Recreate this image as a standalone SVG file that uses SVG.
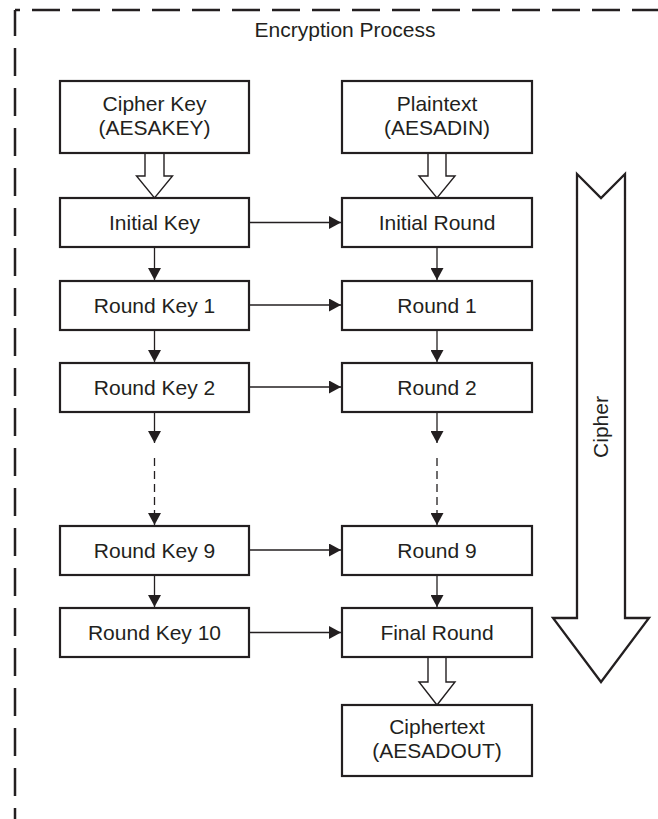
<svg xmlns="http://www.w3.org/2000/svg" width="658" height="819" viewBox="0 0 658 819">
<style>
  .box { fill: #ffffff; stroke: #231f20; stroke-width: 2.2; }
  .lbl { font-family: "Liberation Sans", Arial, sans-serif; font-size: 21px; fill: #231f20; text-anchor: middle; }
  .conn { stroke: #231f20; stroke-width: 1.3; fill: none; }
  .dash { stroke-dasharray: 8 5; }
  .hollow { fill: #ffffff; stroke: #231f20; stroke-width: 1.4; stroke-linejoin: miter; }
  .border { fill: none; stroke: #231f20; stroke-width: 2.5; stroke-dasharray: 28 12; }
</style>
<defs>
  <marker id="ah" markerUnits="userSpaceOnUse" markerWidth="13" markerHeight="13" refX="12" refY="6.5" orient="auto">
    <path d="M0,0 L12,6.5 L0,13 Z" fill="#231f20"/>
  </marker>
</defs>
<rect width="658" height="819" fill="#ffffff"/>

<g id="frame">
  <path class="border" d="M15,10 H660" stroke-dashoffset="23"/>
  <path class="border" d="M15,10 V830" stroke-dashoffset="2"/>
  <text class="lbl" x="345" y="37">Encryption Process</text>
</g>

<g id="cipher-arrow">
  <polygon points="577,174 601,198 625,174 625,618 649,618 601,682 553,618 577,618" fill="#ffffff" stroke="#231f20" stroke-width="2.3" stroke-linejoin="miter"/>
  <text class="lbl" transform="translate(608,427) rotate(-90)">Cipher</text>
</g>

<g id="connectors">
  <polygon class="hollow" points="145,153 145,176 136.5,176 154.5,198 172.5,176 164,176 164,153"/>
  <polygon class="hollow" points="428,153 428,176 419,176 437,198 455,176 446,176 446,153"/>
  <polygon class="hollow" points="428,657 428,682 419,682 437,705 455,682 446,682 446,657"/>

  <line class="conn" x1="154.5" y1="248" x2="154.5" y2="280" marker-end="url(#ah)"/>
  <line class="conn" x1="154.5" y1="331" x2="154.5" y2="362" marker-end="url(#ah)"/>
  <line class="conn" x1="154.5" y1="413" x2="154.5" y2="443" marker-end="url(#ah)"/>
  <line class="conn dash" x1="154.5" y1="458" x2="154.5" y2="525" marker-end="url(#ah)"/>
  <line class="conn" x1="154.5" y1="576" x2="154.5" y2="607" marker-end="url(#ah)"/>

  <line class="conn" x1="437" y1="248" x2="437" y2="280" marker-end="url(#ah)"/>
  <line class="conn" x1="437" y1="331" x2="437" y2="362" marker-end="url(#ah)"/>
  <line class="conn" x1="437" y1="413" x2="437" y2="443" marker-end="url(#ah)"/>
  <line class="conn dash" x1="437" y1="458" x2="437" y2="525" marker-end="url(#ah)"/>
  <line class="conn" x1="437" y1="576" x2="437" y2="607" marker-end="url(#ah)"/>

  <line class="conn" x1="250" y1="222.5" x2="341" y2="222.5" marker-end="url(#ah)"/>
  <line class="conn" x1="250" y1="305" x2="341" y2="305" marker-end="url(#ah)"/>
  <line class="conn" x1="250" y1="387" x2="341" y2="387" marker-end="url(#ah)"/>
  <line class="conn" x1="250" y1="550" x2="341" y2="550" marker-end="url(#ah)"/>
  <line class="conn" x1="250" y1="632.5" x2="341" y2="632.5" marker-end="url(#ah)"/>
</g>

<g id="cipher-key">
  <rect class="box" x="60" y="81" width="189" height="72"/>
  <text class="lbl" x="154.5" y="111">Cipher Key</text>
  <text class="lbl" x="154.5" y="135">(AESAKEY)</text>
</g>
<g id="plaintext">
  <rect class="box" x="342" y="81" width="190" height="72"/>
  <text class="lbl" x="437" y="111">Plaintext</text>
  <text class="lbl" x="437" y="135">(AESADIN)</text>
</g>

<g id="initial-key">
  <rect class="box" x="60" y="198" width="189" height="49"/>
  <text class="lbl" x="154.5" y="230">Initial Key</text>
</g>
<g id="initial-round">
  <rect class="box" x="342" y="198" width="190" height="49"/>
  <text class="lbl" x="437" y="230">Initial Round</text>
</g>

<g id="round-key-1">
  <rect class="box" x="60" y="281" width="189" height="49"/>
  <text class="lbl" x="154.5" y="313">Round Key 1</text>
</g>
<g id="round-1">
  <rect class="box" x="342" y="281" width="190" height="49"/>
  <text class="lbl" x="437" y="313">Round 1</text>
</g>

<g id="round-key-2">
  <rect class="box" x="60" y="363" width="189" height="49"/>
  <text class="lbl" x="154.5" y="395">Round Key 2</text>
</g>
<g id="round-2">
  <rect class="box" x="342" y="363" width="190" height="49"/>
  <text class="lbl" x="437" y="395">Round 2</text>
</g>

<g id="round-key-9">
  <rect class="box" x="60" y="526" width="189" height="49"/>
  <text class="lbl" x="154.5" y="558">Round Key 9</text>
</g>
<g id="round-9">
  <rect class="box" x="342" y="526" width="190" height="49"/>
  <text class="lbl" x="437" y="558">Round 9</text>
</g>

<g id="round-key-10">
  <rect class="box" x="60" y="608" width="189" height="49"/>
  <text class="lbl" x="154.5" y="640">Round Key 10</text>
</g>
<g id="final-round">
  <rect class="box" x="342" y="608" width="190" height="49"/>
  <text class="lbl" x="437" y="640">Final Round</text>
</g>

<g id="ciphertext">
  <rect class="box" x="342" y="705" width="190" height="71"/>
  <text class="lbl" x="437" y="734">Ciphertext</text>
  <text class="lbl" x="437" y="758">(AESADOUT)</text>
</g>
</svg>
